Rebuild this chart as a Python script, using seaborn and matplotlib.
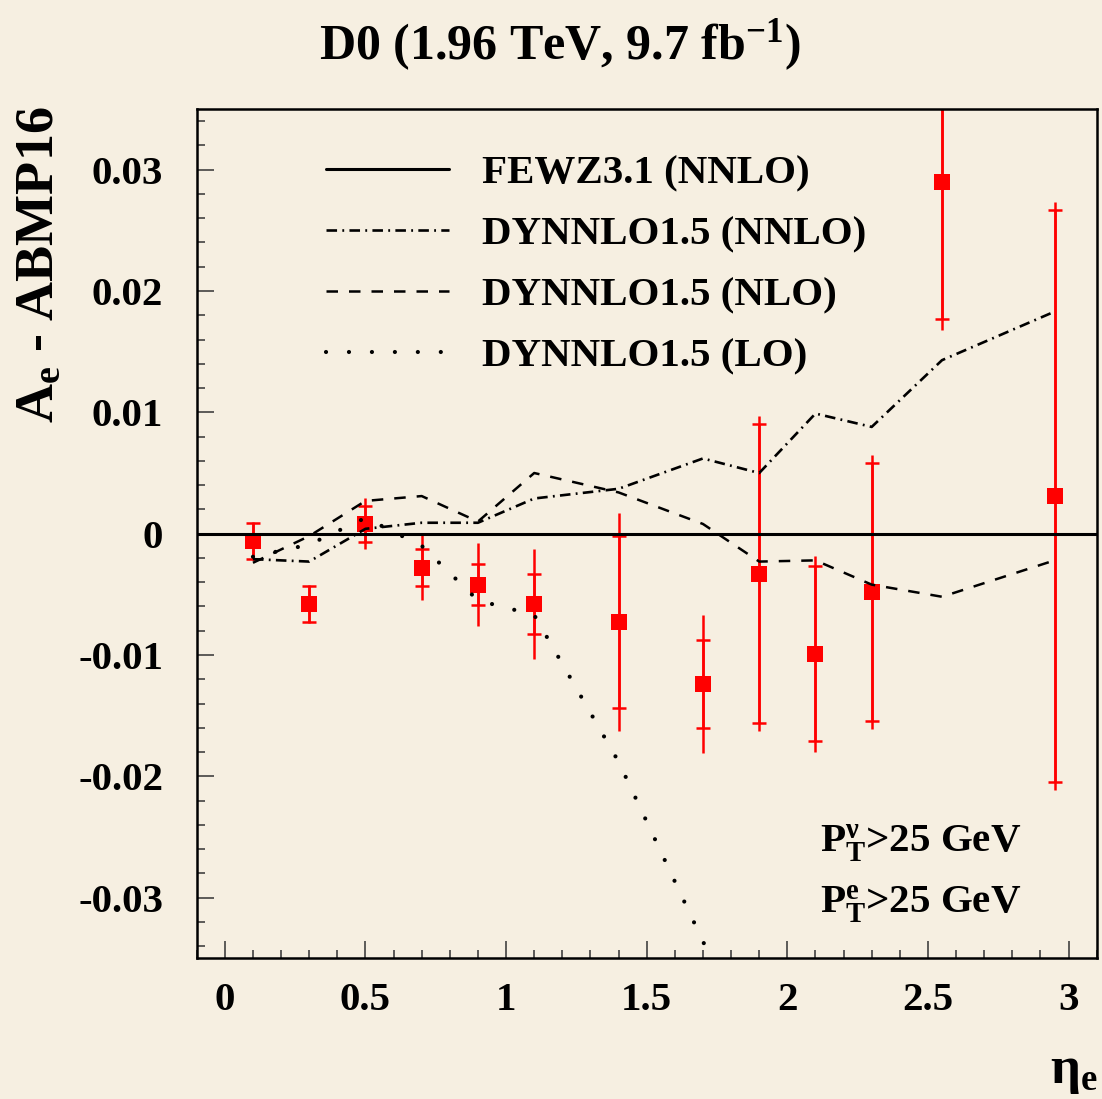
import numpy as np
import pandas as pd
import matplotlib
matplotlib.use("Agg")
import matplotlib.pyplot as plt
from matplotlib.ticker import MultipleLocator, FixedLocator
import seaborn as sns

# Electron charge asymmetry minus ABMP16 prediction, D0 9.7 fb^-1
eta = [0.1, 0.3, 0.5, 0.7, 0.9, 1.1, 1.4, 1.7, 1.9, 2.1, 2.3, 2.55, 2.95]
data = [-0.0006, -0.0058, 0.0008, -0.0028, -0.0042, -0.0058, -0.0073,
        -0.0124, -0.0033, -0.0099, -0.0048, 0.0290, 0.0031]
stat_err = [0.0015, 0.0015, 0.0015, 0.0015, 0.0017, 0.0025, 0.0071,
            0.0036, 0.0123, 0.0072, 0.0106, 0.0113, 0.0236]
tot_err = [0.0016, 0.0016, 0.0021, 0.0027, 0.0034, 0.0045, 0.0090,
           0.0057, 0.0130, 0.0081, 0.0113, 0.0122, 0.0242]

# theory predictions relative to ABMP16 (FEWZ NNLO is the reference, i.e. zero)
nnlo_dyn = [-0.0021, -0.0023, 0.0004, 0.0009, 0.0009, 0.0029, 0.0037,
            0.0062, 0.0050, 0.0099, 0.0088, 0.0143, 0.0183]
nlo_dyn = [-0.0024, -0.0002, 0.0027, 0.0031, 0.0010, 0.0050, 0.0034,
           0.0008, -0.0023, -0.0022, -0.0042, -0.0052, -0.0022]
eta_lo = [0.1, 0.3, 0.5, 0.7, 0.9, 1.1, 1.4, 1.7, 1.9]
lo_dyn = [-0.0019, -0.0009, 0.0013, -0.0010, -0.0055, -0.0067, -0.0188,
          -0.0336, -0.0435]

labels = ["FEWZ3.1 (NNLO)", "DYNNLO1.5 (NNLO)", "DYNNLO1.5 (NLO)", "DYNNLO1.5 (LO)"]
x_ticks = [0, 0.5, 1, 1.5, 2, 2.5, 3]
x_ticklabels = ["0", "0.5", "1", "1.5", "2", "2.5", "3"]
y_ticks = [-0.03, -0.02, -0.01, 0, 0.01, 0.02, 0.03]
y_ticklabels = ["-0.03", "-0.02", "-0.01", "0", "0.01", "0.02", "0.03"]

BG = "#F6EFE1"
RED = "#FF0000"

sns.set_style("ticks")
plt.rcParams["font.family"] = ["Liberation Serif", "DejaVu Serif"]
plt.rcParams["font.weight"] = "bold"
plt.rcParams["text.color"] = "black"
plt.rcParams["xtick.color"] = "black"
plt.rcParams["ytick.color"] = "black"
plt.rcParams["axes.labelcolor"] = "black"
plt.rcParams["mathtext.fontset"] = "custom"
plt.rcParams["mathtext.rm"] = "Liberation Serif:bold"
plt.rcParams["mathtext.it"] = "Liberation Serif:bold"
plt.rcParams["mathtext.bf"] = "Liberation Serif:bold"

fig = plt.figure(figsize=(11.02, 10.99), dpi=100, facecolor=BG)
ax = fig.add_axes([0.1785, 0.128, 0.8167, 0.7728])
ax.set_facecolor(BG)

df = pd.DataFrame({"eta": eta, "val": data})

# data: total uncertainty as bare line, statistical with caps
ax.errorbar(eta, data, yerr=tot_err, fmt="none", ecolor=RED, elinewidth=1.8,
            capsize=0, zorder=2)
ax.errorbar(eta, data, yerr=stat_err, fmt="none", ecolor=RED, elinewidth=1.8,
            capsize=5, capthick=1.8, zorder=2)
sns.scatterplot(data=df, x="eta", y="val", marker="s", s=118, color=RED,
                linewidth=0, zorder=2.5, ax=ax, legend=False)

# theory curves
ax.axhline(0, color="black", lw=2.2, zorder=3, label=labels[0])
sns.lineplot(x=eta, y=nnlo_dyn, color="black", lw=1.9, ax=ax, zorder=3,
             linestyle=(0, (4.0, 2.0, 0.7, 2.0)), label=labels[1])
sns.lineplot(x=eta, y=nlo_dyn, color="black", lw=1.8, ax=ax, zorder=3,
             linestyle=(0, (4.6, 4.4)), label=labels[2])
sns.lineplot(x=eta_lo, y=lo_dyn, color="black", lw=3.0, ax=ax, zorder=3,
             linestyle=(0, (0.01, 5.5)), dash_capstyle="round", label=labels[3])

ax.set_xlim(-0.1, 3.1)
ax.set_ylim(-0.035, 0.035)
ax.set_xlabel("")
ax.set_ylabel("")

ax.xaxis.set_major_locator(FixedLocator(x_ticks))
ax.set_xticklabels(x_ticklabels)
ax.yaxis.set_major_locator(FixedLocator(y_ticks))
ax.set_yticklabels(y_ticklabels)
ax.xaxis.set_minor_locator(MultipleLocator(0.1))
ax.yaxis.set_minor_locator(MultipleLocator(0.002))

ax.tick_params(which="both", direction="in", color="#333333", top=False, right=False,
               labelcolor="black")
ax.tick_params(which="major", length=12, width=1.1, labelsize=29.5)
ax.tick_params(which="minor", length=6, width=1.1)
ax.tick_params(axis="y", which="major", pad=24)
ax.tick_params(axis="x", which="major", pad=17)
for lab in ax.get_xticklabels() + ax.get_yticklabels():
    lab.set_fontweight("bold")

for sp in ax.spines.values():
    sp.set_visible(True)
    sp.set_linewidth(1.8)
    sp.set_color("black")

leg = ax.legend(loc="upper left", bbox_to_anchor=(0.1437, 0.946), frameon=False,
                fontsize=29.5, handlelength=3.0, handletextpad=0.8,
                labelspacing=0.57, borderpad=0, borderaxespad=0)
for t in leg.get_texts():
    t.set_fontweight("bold")
    t.set_color("black")

ax.text(0.6926, 0.1347, r"P$_{\mathregular{T}}^{\mathregular{\nu}}$>25 GeV",
        transform=ax.transAxes, fontsize=29.5, fontweight="bold", va="center", ha="left")
ax.text(0.6926, 0.0640, r"P$_{\mathregular{T}}^{\mathregular{e}}$>25 GeV",
        transform=ax.transAxes, fontsize=29.5, fontweight="bold", va="center", ha="left")

fig.text(0.508, 0.959, r"D0 (1.96 TeV, 9.7 fb$^{\mathregular{-1}}$)",
         fontsize=36, fontweight="bold", ha="center", va="center")
fig.text(0.036, 0.9035, r"A$_{\mathregular{e}}$ - ABMP16", rotation=90,
         fontsize=39, fontweight="bold", ha="center", va="top")
fig.text(0.996, 0.025, r"η$_{\mathregular{e}}$", fontsize=38, fontweight="bold",
         ha="right", va="center")

fig.savefig("out.png", dpi=100, facecolor=BG)
